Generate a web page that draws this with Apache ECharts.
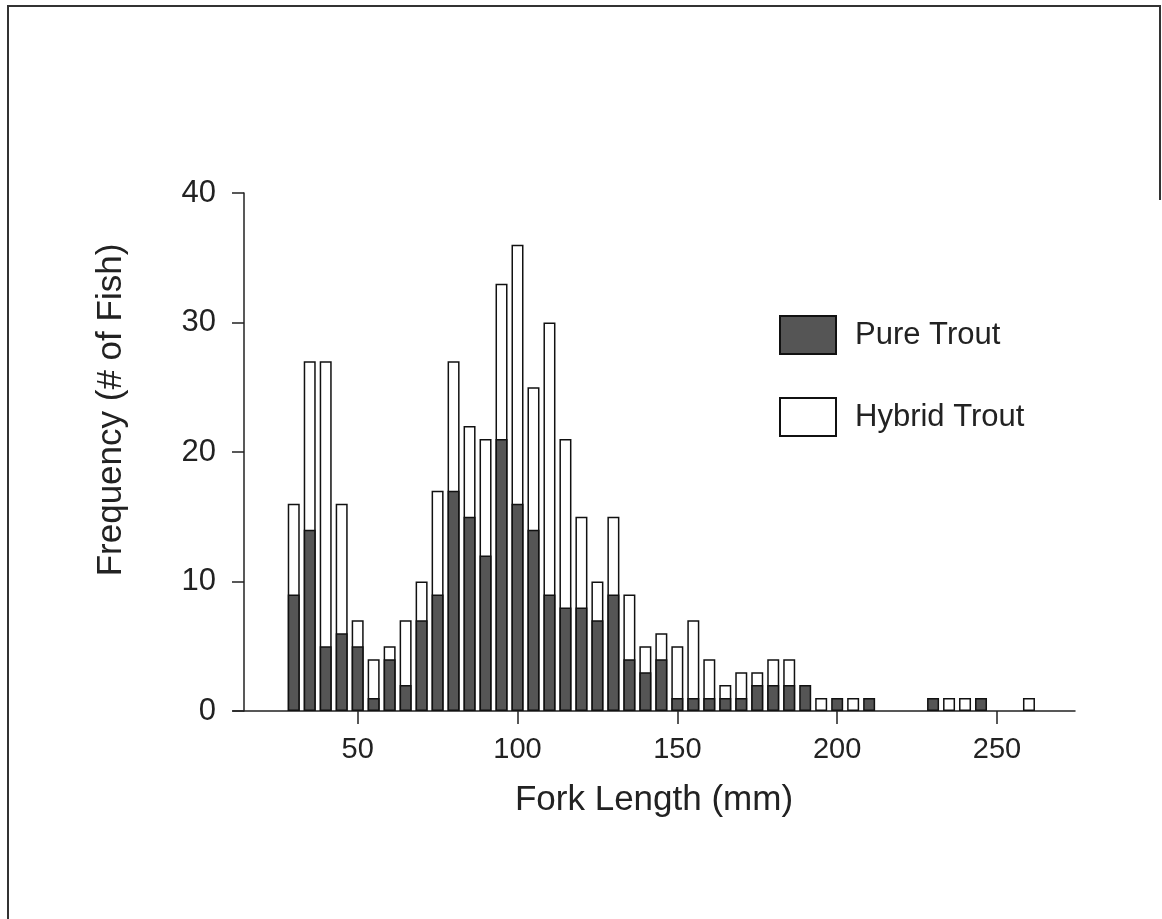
<!DOCTYPE html>
<html>
<head>
<meta charset="utf-8">
<script src="https://cdn.jsdelivr.net/npm/echarts@6/dist/echarts.min.js"></script>
<style>
html,body{margin:0;padding:0;background:#fff;}
#c{width:1162px;height:919px;}
</style>
</head>
<body>
<div id="c"></div>
<script>
// Fork length bins (mm)
var lengths = [30,35,40,45,50,55,60,65,70,75,80,85,90,95,100,105,110,115,120,125,130,135,140,145,150,155,160,165,170,175,180,185,190,195,200,205,210,215,220,225,230,235,240,245,250,255,260];
// Pure trout counts
var pure =   [9,14,5,6,5,1,4,2,7,9,17,15,12,21,16,14,9,8,8,7,9,4,3,4,1,1,1,1,1,2,2,2,2,0,1,0,1,0,0,0,1,0,0,1,0,0,0];
// Hybrid trout counts (stacked on top of pure)
var hybrid = [7,13,22,10,2,3,1,5,3,8,10,7,9,12,20,11,21,13,7,3,6,5,2,2,4,6,3,1,2,1,2,2,0,1,0,1,0,0,0,0,0,1,1,0,0,0,1];
var xTicks = [50,100,150,200,250];

var FONT = "'Liberation Sans', Arial, sans-serif";

// Stacked display: the hybrid segment sits on top of the pure segment, so the
// white bar reaches the stack top (pure + hybrid) and the pure bar is drawn over it.
var pureData = lengths.map(function(x,i){ return [x, pure[i] === 0 ? null : pure[i]]; });
var stackTopData = lengths.map(function(x,i){ var t = pure[i] + hybrid[i]; return [x, hybrid[i] === 0 ? null : t]; });

var chart = echarts.init(document.getElementById('c'), null, {renderer:'canvas'});
chart.setOption({
  animation:false,
  backgroundColor:'#ffffff',
  grid:{left:233, right:87, top:193, bottom:208, containLabel:false},
  legend:{
    orient:'vertical', left:774, top:310,
    itemWidth:56, itemHeight:38, itemGap:42,
    icon:'rect',
    textStyle:{fontFamily:FONT, fontSize:31, color:'#222', padding:[0,0,0,14]},
    data:['Pure Trout','Hybrid Trout']
  },
  xAxis:{
    type:'value', min:11, max:274.4,
    name:'Fork Length (mm)', nameLocation:'middle', nameGap:72,
    nameTextStyle:{fontFamily:FONT, fontSize:35, color:'#222'},
    axisLine:{show:true, onZero:false, lineStyle:{color:'#222', width:1.5}},
    axisTick:{show:true, length:13, lineStyle:{color:'#222', width:1.5}, customValues:xTicks},
    axisLabel:{fontFamily:FONT, fontSize:29, color:'#222', margin:24, customValues:xTicks},
    splitLine:{show:false}
  },
  yAxis:{
    type:'value', min:0, max:40, interval:10, offset:-11,
    axisLine:{show:true, lineStyle:{color:'#222', width:1.5}},
    axisTick:{show:true, length:12, lineStyle:{color:'#222', width:1.5}},
    axisLabel:{fontFamily:FONT, fontSize:31, color:'#222', margin:28},
    splitLine:{show:false}
  },
  graphic:[
    {type:'text', x:111, y:410, rotation:Math.PI/2,
     style:{text:'Frequency (# of Fish)', fontFamily:FONT, fontSize:35, fill:'#222', align:'center', verticalAlign:'middle'}},
    {type:'polyline', shape:{points:[[8,919],[8,6],[1160,6],[1160,200]]}, style:{stroke:'#333', lineWidth:2, fill:null}}
  ],
  series:[
    {name:'Hybrid Trout', type:'bar', barWidth:12, barGap:'-100%',
     itemStyle:{color:'#ffffff', borderColor:'#111', borderWidth:1.5},
     data:stackTopData},
    {name:'Pure Trout', type:'bar', barWidth:12, barGap:'-100%',
     itemStyle:{color:'#555555', borderColor:'#111', borderWidth:1.5},
     data:pureData}
  ]
});
</script>
</body>
</html>
